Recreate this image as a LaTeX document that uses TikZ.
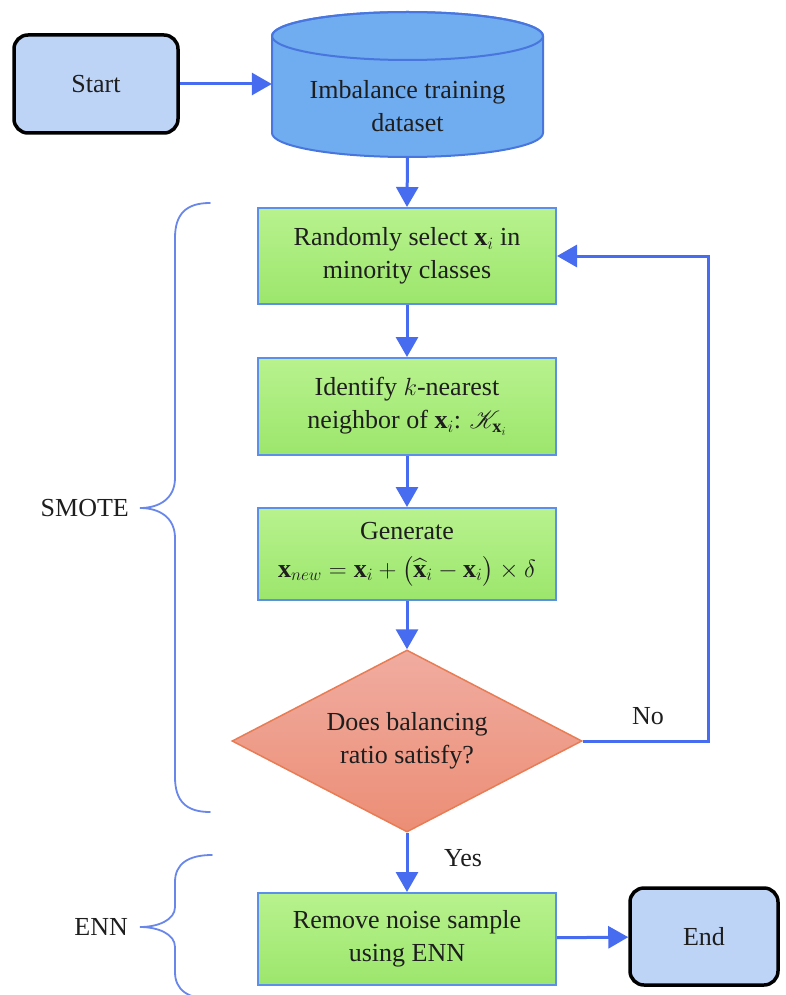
\documentclass[tikz,border=0pt]{standalone}
\usepackage{fontspec}
\usepackage{amsmath}
\usepackage{mathrsfs}
\setmainfont{Liberation Serif}
\usetikzlibrary{shapes.geometric,arrows.meta}

\definecolor{flowblue}{RGB}{72,108,240}
\definecolor{bracecol}{RGB}{105,135,235}
\definecolor{termfill}{RGB}{189,212,247}
\definecolor{cylfill}{RGB}{112,172,240}
\definecolor{cylline}{RGB}{72,118,222}
\definecolor{greentop}{RGB}{184,242,142}
\definecolor{greenbot}{RGB}{156,230,108}
\definecolor{boxline}{RGB}{92,142,236}
\definecolor{diatop}{RGB}{240,172,160}
\definecolor{diabot}{RGB}{236,142,118}
\definecolor{dialine}{RGB}{232,124,84}
\definecolor{ink}{RGB}{30,30,30}

\tikzset{
  x=1pt, y=1pt,
  every node/.style={text=ink, font=\fontsize{26}{33}\selectfont},
  terminal/.style={draw=black, line width=3.5pt, rounded corners=14pt,
    fill=termfill, align=center},
  stepbox/.style={draw=boxline, line width=2pt, top color=greentop,
    bottom color=greenbot, minimum width=298pt, align=center, inner sep=4pt},
  decision/.style={diamond, aspect=1.94, draw=dialine, line width=1.5pt,
    top color=diatop, bottom color=diabot, minimum width=350pt,
    minimum height=182pt, align=center, inner sep=0pt},
  flow/.style={draw=flowblue, line width=3pt,
    -{Triangle[length=20pt,width=22pt]}},
  bracepath/.style={draw=bracecol, line width=1.8pt, line cap=round},
}

\begin{document}
\begin{tikzpicture}
\clip (0,0) rectangle (786,-995);
\useasboundingbox (0,0) rectangle (786,-995);

% start terminal
\node[terminal, minimum width=164pt, minimum height=98pt] (start) at (96,-84) {Start};

% dataset cylinder
\path[fill=cylfill, draw=cylline, line width=2pt]
  (272,-36) -- (272,-133)
  arc[start angle=180, end angle=360, x radius=135.5, y radius=24]
  -- (543,-36)
  arc[start angle=0, end angle=180, x radius=135.5, y radius=24] -- cycle;
\draw[cylline, line width=2pt] (407.5,-36) ellipse[x radius=135.5, y radius=24];
\node[inner sep=0pt, minimum width=271pt, minimum height=145pt] (data) at (407.5,-84.5) {};
\node[align=center] (datatext) at (407.5,-106) {Imbalance training\\dataset};

% SMOTE steps
\node[stepbox, minimum height=96pt] (select) at (407,-256)
  {Randomly select $\mathbf{x}_i$ in\\minority classes};
\node[stepbox, minimum height=97pt] (knn) at (407,-406.5)
  {Identify $k$-nearest\\neighbor of $\mathbf{x}_i$: $\mathscr{K}_{\mathbf{x}_i}$};
\node[stepbox, minimum height=92pt] (gen) at (407,-554)
  {Generate\\[5pt]$\mathbf{x}_{new}=\mathbf{x}_i+\bigl(\widehat{\mathbf{x}}_i-\mathbf{x}_i\bigr)\times\delta$};
\node[decision] (check) at (407,-741)
  {Does balancing\\ratio satisfy?};

% ENN step and end
\node[stepbox, minimum height=92pt] (enn) at (407,-939)
  {Remove noise sample\\using ENN};
\node[terminal, minimum width=148pt, minimum height=97pt] (finish) at (704,-936.5) {End};

% connectors
\draw[flow] (start) -- (data.west |- start);
\draw[flow] (data.south) -- (select.north);
\draw[flow] (select) -- (knn);
\draw[flow] (knn) -- (gen);
\draw[flow] (gen) -- (check.north);
\coordinate (loopcorner) at (708,-256);
\draw[flow] (check.east) -| (loopcorner) -- (select.east);
\draw[flow] (check.south) -- (enn.north);
\draw[flow] (enn) -- (finish);

\node (nolabel) at (648,-716) {No};
\node (yeslabel) at (463,-858) {Yes};

% group braces
\draw[bracepath] (210,-203) .. controls (186,-203) and (175,-214) .. (175,-238)
  -- (175,-478) .. controls (175,-498) and (160,-508) .. (140,-508)
  .. controls (160,-508) and (175,-518) .. (175,-538)
  -- (175,-777) .. controls (175,-801) and (186,-812) .. (210,-812);
\node[anchor=east, inner sep=0pt] (smote) at (129,-508) {SMOTE};

\draw[bracepath] (212,-855) .. controls (188,-855) and (175,-864) .. (175,-882)
  -- (175,-907) .. controls (175,-920) and (158,-927) .. (140,-927)
  .. controls (158,-927) and (175,-934) .. (175,-947)
  -- (175,-972) .. controls (175,-990) and (188,-999) .. (212,-999);
\node[anchor=east, inner sep=0pt] (ennlabel) at (128,-927) {ENN};
\end{tikzpicture}
\end{document}
